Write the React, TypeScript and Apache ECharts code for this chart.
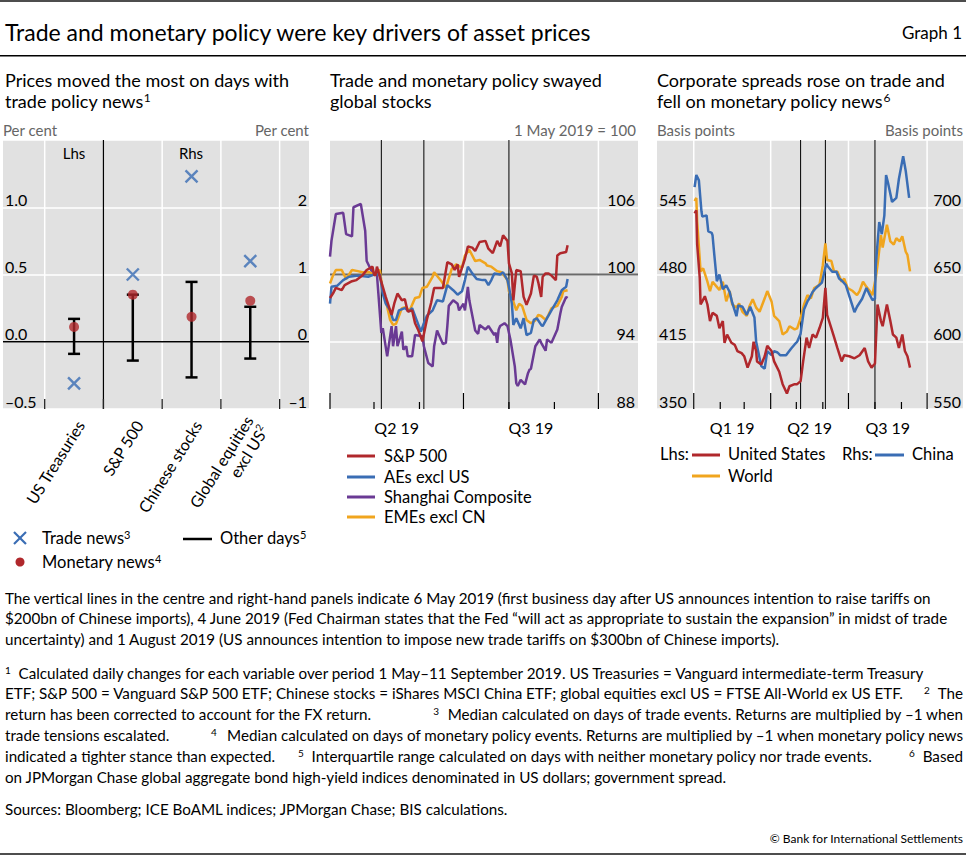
import React, { useEffect, useRef } from 'react';
import * as echarts from 'echarts';

const FONT = 'Lato, "Noto Sans", "DejaVu Sans", sans-serif';
const RED = '#b0282c';
const BLUE = '#3a6db4';
const PURPLE = '#6a3a94';
const ORANGE = '#f0a51e';
const GRIDBG = '#e1e1e1';

// ---------- Left panel ----------
const assetLabels = ['US Treasuries', 'S&P 500', 'Chinese stocks', 'Global equities\nexcl US'];
const assetLabelSup = ['', '', '', '2'];
const assetPositions = [1, 2, 3, 4];
const assetOnRhs = [false, true, true, true];
const tradeNews = [-0.31, 1.0, 2.46, 1.2];
const monetaryNews = [0.11, 0.7, 0.37, 0.61];
const otherDaysLow = [-0.09, -0.28, -0.53, -0.25];
const otherDaysHigh = [0.17, 0.7, 0.89, 0.52];
const leftDividers = [0.5, 1.5, 2.5, 3.5, 4.5];
const lhsRhsDivider = 1.5;

// ---------- Centre panel (1 May 2019 = 100) ----------
const spx: [string, number][] = [
  ['2019-04-01', 97.9], ['2019-04-03', 98.3], ['2019-04-05', 98.8], ['2019-04-09', 98.6], ['2019-04-11', 99.05],
  ['2019-04-16', 99.4], ['2019-04-19', 99.5], ['2019-04-23', 99.9], ['2019-04-26', 100.4], ['2019-04-30', 100.7],
  ['2019-05-01', 100], ['2019-05-02', 99.9], ['2019-05-03', 100.7], ['2019-05-07', 98.9], ['2019-05-09', 98.0],
  ['2019-05-13', 96.4], ['2019-05-15', 97.5], ['2019-05-17', 98.3], ['2019-05-20', 97.7], ['2019-05-22', 97.8],
  ['2019-05-24', 96.7], ['2019-05-27', 96.8], ['2019-05-29', 95.65], ['2019-05-31', 95.1], ['2019-06-03', 94.05],
  ['2019-06-06', 95.95], ['2019-06-09', 97.5], ['2019-06-11', 98.8], ['2019-06-17', 98.8], ['2019-06-20', 101.1],
  ['2019-06-23', 100.9], ['2019-06-25', 100.4], ['2019-06-27', 100.9], ['2019-06-28', 99.8], ['2019-07-02', 101.4],
  ['2019-07-04', 102.5], ['2019-07-07', 102.4], ['2019-07-09', 102.1], ['2019-07-12', 102.9], ['2019-07-16', 103.0],
  ['2019-07-18', 102.3], ['2019-07-21', 101.9], ['2019-07-24', 103.0], ['2019-07-26', 102.5], ['2019-07-28', 103.5],
  ['2019-07-31', 103.0], ['2019-08-01', 101.0], ['2019-08-03', 100.1], ['2019-08-04', 97.7], ['2019-08-06', 100.4],
  ['2019-08-09', 100.3], ['2019-08-11', 98.0], ['2019-08-13', 97.3], ['2019-08-16', 98.3], ['2019-08-18', 99.9],
  ['2019-08-20', 99.8], ['2019-08-21', 99.3], ['2019-08-23', 98.0], ['2019-08-24', 99.8], ['2019-08-26', 100.1],
  ['2019-08-28', 100.1], ['2019-08-30', 99.9], ['2019-09-02', 99.5], ['2019-09-03', 101.7], ['2019-09-05', 101.9],
  ['2019-09-09', 102.0], ['2019-09-10', 102.6],
];
const aesExUs: [string, number][] = [
  ['2019-04-01', 97.4], ['2019-04-02', 98.9], ['2019-04-06', 99.0], ['2019-04-10', 99.5], ['2019-04-14', 99.8],
  ['2019-04-20', 99.9], ['2019-04-27', 99.8], ['2019-05-01', 100], ['2019-05-05', 100.0], ['2019-05-07', 98.3],
  ['2019-05-09', 97.4], ['2019-05-12', 96.8], ['2019-05-14', 95.95], ['2019-05-16', 95.95], ['2019-05-18', 96.8],
  ['2019-05-22', 97.0], ['2019-05-25', 96.7], ['2019-05-27', 97.0], ['2019-05-30', 95.95], ['2019-06-02', 94.9],
  ['2019-06-04', 95.65], ['2019-06-06', 96.3], ['2019-06-10', 96.8], ['2019-06-13', 97.7], ['2019-06-17', 97.6],
  ['2019-06-20', 99.05], ['2019-06-24', 98.6], ['2019-06-27', 98.2], ['2019-06-30', 98.5], ['2019-07-02', 99.5],
  ['2019-07-04', 100.7], ['2019-07-07', 100.1], ['2019-07-10', 99.6], ['2019-07-14', 99.5], ['2019-07-16', 99.5],
  ['2019-07-18', 99.05], ['2019-07-20', 99.5], ['2019-07-22', 100.1], ['2019-07-26', 100.0], ['2019-07-28', 100.2],
  ['2019-07-31', 99.5], ['2019-08-01', 98.9], ['2019-08-03', 97.4], ['2019-08-04', 95.5], ['2019-08-06', 96.1],
  ['2019-08-09', 95.2], ['2019-08-11', 96.1], ['2019-08-13', 94.6], ['2019-08-16', 94.8], ['2019-08-18', 95.95],
  ['2019-08-20', 96.1], ['2019-08-23', 95.5], ['2019-08-24', 95.4], ['2019-08-27', 96.1], ['2019-08-30', 96.8],
  ['2019-09-03', 97.7], ['2019-09-06', 98.6], ['2019-09-07', 98.7], ['2019-09-09', 98.9], ['2019-09-10', 99.6],
];
const shanghai: [string, number][] = [
  ['2019-04-01', 101.6], ['2019-04-02', 103.0], ['2019-04-05', 105.4], ['2019-04-10', 105.5], ['2019-04-12', 103.6],
  ['2019-04-16', 103.4], ['2019-04-17', 106.0], ['2019-04-22', 106.3], ['2019-04-25', 103.9], ['2019-04-26', 101.2],
  ['2019-04-29', 100.4], ['2019-05-01', 100.0], ['2019-05-03', 100.0], ['2019-05-06', 94.8], ['2019-05-07', 95.2],
  ['2019-05-10', 92.7], ['2019-05-13', 95.4], ['2019-05-14', 93.6], ['2019-05-16', 95.4], ['2019-05-17', 93.6],
  ['2019-05-20', 94.9], ['2019-05-21', 93.3], ['2019-05-23', 93.6], ['2019-05-24', 92.7], ['2019-05-27', 92.7],
  ['2019-05-29', 94.6], ['2019-06-03', 94.5], ['2019-06-04', 93.6], ['2019-06-07', 92.1], ['2019-06-10', 91.8],
  ['2019-06-11', 93.6], ['2019-06-13', 95.0], ['2019-06-14', 94.7], ['2019-06-17', 93.8], ['2019-06-19', 93.9],
  ['2019-06-20', 95.4], ['2019-06-21', 97.2], ['2019-06-24', 97.7], ['2019-06-27', 97.4], ['2019-06-28', 96.8],
  ['2019-07-01', 97.4], ['2019-07-02', 96.8], ['2019-07-04', 98.9], ['2019-07-05', 97.7], ['2019-07-09', 95.0],
  ['2019-07-11', 94.7], ['2019-07-12', 95.5], ['2019-07-16', 95.1], ['2019-07-18', 95.4], ['2019-07-22', 94.6],
  ['2019-07-23', 94.8], ['2019-07-24', 93.9], ['2019-07-25', 95.1], ['2019-07-26', 95.4], ['2019-07-29', 95.65],
  ['2019-07-31', 95.4], ['2019-08-02', 94.2], ['2019-08-05', 91.8], ['2019-08-06', 90.3], ['2019-08-07', 90.05],
  ['2019-08-09', 90.6], ['2019-08-12', 90.2], ['2019-08-14', 91.2], ['2019-08-15', 91.5], ['2019-08-16', 91.6],
  ['2019-08-19', 93.6], ['2019-08-20', 93.8], ['2019-08-22', 94.2], ['2019-08-23', 93.9], ['2019-08-26', 93.2],
  ['2019-08-27', 94.2], ['2019-08-28', 94.1], ['2019-08-30', 93.9], ['2019-09-03', 95.1], ['2019-09-05', 96.5],
  ['2019-09-06', 97.1], ['2019-09-09', 98.0], ['2019-09-10', 97.9],
];
const emesExCn: [string, number][] = [
  ['2019-04-01', 99.2], ['2019-04-03', 99.9], ['2019-04-05', 100.4], ['2019-04-09', 100.4], ['2019-04-12', 99.6],
  ['2019-04-16', 100.4], ['2019-04-20', 100.3], ['2019-04-23', 100.2], ['2019-04-28', 100.2], ['2019-05-01', 100.0],
  ['2019-05-05', 100.4], ['2019-05-07', 98.5], ['2019-05-09', 97.7], ['2019-05-12', 95.95], ['2019-05-14', 95.5],
  ['2019-05-16', 95.6], ['2019-05-18', 96.3], ['2019-05-20', 97.0], ['2019-05-23', 97.1], ['2019-05-25', 96.7],
  ['2019-05-29', 97.9], ['2019-06-01', 98.0], ['2019-06-03', 98.8], ['2019-06-06', 98.9], ['2019-06-10', 99.8],
  ['2019-06-11', 100.2], ['2019-06-16', 99.4], ['2019-06-19', 98.8], ['2019-06-23', 100.5], ['2019-06-26', 100.9],
  ['2019-06-30', 100.6], ['2019-07-02', 101.7], ['2019-07-05', 102.2], ['2019-07-09', 101.2], ['2019-07-12', 101.3],
  ['2019-07-16', 101.0], ['2019-07-17', 100.8], ['2019-07-20', 100.7], ['2019-07-24', 100.3], ['2019-07-27', 100.2],
  ['2019-07-31', 99.5], ['2019-08-01', 98.5], ['2019-08-03', 98.0], ['2019-08-06', 96.8], ['2019-08-08', 97.4],
  ['2019-08-10', 97.2], ['2019-08-13', 95.95], ['2019-08-16', 95.65], ['2019-08-19', 95.9], ['2019-08-21', 96.4],
  ['2019-08-23', 96.3], ['2019-08-26', 95.95], ['2019-08-28', 96.4], ['2019-08-30', 97.0], ['2019-09-03', 97.2],
  ['2019-09-06', 98.0], ['2019-09-07', 98.5], ['2019-09-10', 98.6],
];

// ---------- Right panel (basis points) ----------
const usSpread: [string, number][] = [
  ['2019-01-02', 539], ['2019-01-04', 542], ['2019-01-05', 509], ['2019-01-08', 477], ['2019-01-09', 451],
  ['2019-01-11', 454], ['2019-01-14', 459], ['2019-01-17', 451], ['2019-01-20', 435], ['2019-01-23', 443],
  ['2019-01-28', 440], ['2019-01-31', 428], ['2019-02-04', 435], ['2019-02-06', 414], ['2019-02-09', 422],
  ['2019-02-14', 414], ['2019-02-18', 412], ['2019-02-21', 406], ['2019-02-26', 404], ['2019-03-01', 401],
  ['2019-03-05', 390], ['2019-03-10', 401], ['2019-03-12', 415], ['2019-03-15', 406], ['2019-03-16', 396],
  ['2019-03-21', 393], ['2019-03-25', 401], ['2019-03-28', 411], ['2019-04-02', 406], ['2019-04-05', 396],
  ['2019-04-11', 386], ['2019-04-15', 374], ['2019-04-20', 365], ['2019-04-23', 372], ['2019-04-29', 374],
  ['2019-05-02', 374], ['2019-05-06', 377], ['2019-05-09', 396], ['2019-05-13', 419], ['2019-05-16', 409],
  ['2019-05-20', 422], ['2019-05-24', 419], ['2019-05-28', 428], ['2019-06-01', 438], ['2019-06-04', 467],
  ['2019-06-06', 441], ['2019-06-11', 428], ['2019-06-14', 420], ['2019-06-18', 409], ['2019-06-23', 396],
  ['2019-06-26', 402], ['2019-07-02', 401], ['2019-07-08', 399], ['2019-07-14', 402], ['2019-07-20', 409],
  ['2019-07-24', 396], ['2019-07-28', 390], ['2019-08-01', 394], ['2019-08-04', 451], ['2019-08-08', 435],
  ['2019-08-10', 430], ['2019-08-15', 451], ['2019-08-19', 435], ['2019-08-22', 422], ['2019-08-26', 419],
  ['2019-08-29', 409], ['2019-09-02', 422], ['2019-09-05', 406], ['2019-09-08', 401], ['2019-09-11', 390],
];
const worldSpread: [string, number][] = [
  ['2019-01-02', 551], ['2019-01-04', 554], ['2019-01-05', 531], ['2019-01-09', 483], ['2019-01-12', 486],
  ['2019-01-17', 473], ['2019-01-20', 464], ['2019-01-23', 473], ['2019-01-28', 468], ['2019-01-31', 465],
  ['2019-02-04', 473], ['2019-02-08', 454], ['2019-02-12', 464], ['2019-02-15', 451], ['2019-02-20', 448],
  ['2019-02-23', 452], ['2019-02-27', 444], ['2019-03-04', 440], ['2019-03-07', 449], ['2019-03-11', 456],
  ['2019-03-15', 448], ['2019-03-19', 444], ['2019-03-25', 457], ['2019-03-28', 464], ['2019-04-02', 454],
  ['2019-04-05', 440], ['2019-04-11', 435], ['2019-04-15', 422], ['2019-04-20', 425], ['2019-04-23', 430],
  ['2019-04-29', 427], ['2019-05-02', 428], ['2019-05-06', 438], ['2019-05-10', 451], ['2019-05-14', 460],
  ['2019-05-18', 457], ['2019-05-22', 467], ['2019-05-28', 470], ['2019-06-01', 489], ['2019-06-04', 510],
  ['2019-06-06', 494], ['2019-06-11', 493], ['2019-06-14', 483], ['2019-06-18', 483], ['2019-06-23', 473],
  ['2019-06-26', 476], ['2019-06-30', 467], ['2019-07-06', 464], ['2019-07-11', 460], ['2019-07-14', 464],
  ['2019-07-18', 473], ['2019-07-22', 468], ['2019-07-26', 464], ['2019-07-29', 460], ['2019-08-02', 477],
  ['2019-08-04', 489], ['2019-08-08', 518], ['2019-08-10', 506], ['2019-08-15', 528], ['2019-08-19', 512],
  ['2019-08-23', 509], ['2019-08-26', 515], ['2019-08-30', 512], ['2019-09-02', 517], ['2019-09-06', 502],
  ['2019-09-08', 499], ['2019-09-11', 483],
];
const chinaSpread: [string, number][] = [
  ['2019-01-02', 715], ['2019-01-04', 724], ['2019-01-07', 720], ['2019-01-10', 697], ['2019-01-11', 693],
  ['2019-01-16', 694], ['2019-01-18', 682], ['2019-01-22', 681], ['2019-01-23', 679], ['2019-01-25', 665],
  ['2019-01-28', 645], ['2019-01-31', 650], ['2019-02-04', 639], ['2019-02-08', 642], ['2019-02-12', 637],
  ['2019-02-15', 629], ['2019-02-20', 619], ['2019-02-22', 627], ['2019-02-27', 626], ['2019-03-04', 620],
  ['2019-03-08', 626], ['2019-03-13', 618], ['2019-03-15', 600], ['2019-03-19', 588], ['2019-03-21', 582],
  ['2019-03-25', 580], ['2019-03-28', 593], ['2019-04-02', 590], ['2019-04-05', 593], ['2019-04-09', 592],
  ['2019-04-12', 590], ['2019-04-19', 590], ['2019-04-25', 595], ['2019-04-29', 598], ['2019-05-02', 600],
  ['2019-05-06', 606], ['2019-05-10', 624], ['2019-05-14', 630], ['2019-05-16', 632], ['2019-05-20', 637],
  ['2019-05-24', 640], ['2019-05-31', 644], ['2019-06-05', 658], ['2019-06-07', 656], ['2019-06-12', 652],
  ['2019-06-17', 652], ['2019-06-20', 647], ['2019-06-24', 645], ['2019-06-28', 642], ['2019-07-04', 630],
  ['2019-07-08', 622], ['2019-07-11', 626], ['2019-07-17', 632], ['2019-07-22', 640], ['2019-07-25', 636],
  ['2019-07-29', 631], ['2019-08-01', 632], ['2019-08-02', 657], ['2019-08-06', 689], ['2019-08-09', 680],
  ['2019-08-12', 694], ['2019-08-14', 724], ['2019-08-16', 719], ['2019-08-21', 704], ['2019-08-26', 707],
  ['2019-08-29', 721], ['2019-09-03', 738], ['2019-09-06', 727], ['2019-09-10', 707],
];

// ---------- Axis dates ----------
const eventDates = ['2019-05-06', '2019-06-04', '2019-08-01'];
const midQuarterStarts = ['2019-04-01', '2019-07-01', '2019-10-01'];
const midQuarterLabels = ['Q2 19', 'Q3 19'];
const midMonthStarts = ['2019-05-01', '2019-06-01', '2019-08-01', '2019-09-01'];
const rightQuarterStarts = ['2019-01-01', '2019-04-01', '2019-07-01', '2019-10-01'];
const rightQuarterLabels = ['Q1 19', 'Q2 19', 'Q3 19'];
const rightMonthStarts = ['2019-02-01', '2019-03-01', '2019-05-01', '2019-06-01', '2019-08-01', '2019-09-01'];

const ts = (s: string) => {
  const [y, m, d] = s.split('-').map(Number);
  return Date.UTC(y, m - 1, d);
};
const toSeries = (pts: [string, number][]) => pts.map(([d, v]) => [ts(d), v]);

const rich = (size: number, color = '#000', supSize = Math.round(size * 0.64)) => ({
  n: { fontSize: size, fontFamily: FONT, fill: color, lineHeight: Math.round(size * 1.1) },
  s: { fontSize: supSize, fontFamily: FONT, fill: color, verticalAlign: 'top', lineHeight: supSize + 1 },
});
const rt = (text: string, sup = '') => (text ? `{n|${text}}` : '') + (sup ? `{s|${sup}}` : '');
const T = (x: number, y: number, content: string, size: number, opts: any = {}) => ({
  type: 'text',
  x,
  y,
  silent: true,
  style: {
    text: content,
    rich: rich(size, opts.color || '#000'),
    align: opts.align || 'left',
    verticalAlign: 'middle',
    fontSize: size,
    fontFamily: FONT,
    fill: opts.color || '#000',
  },
});
const L = (x1: number, y1: number, x2: number, y2: number, stroke: string, lineWidth: number) => ({
  type: 'line',
  silent: true,
  shape: { x1, y1, x2, y2 },
  style: { stroke, lineWidth },
});

const minus = (s: string) => s.replace('-', '\u2013');

function timeGuides(quarterStarts: string[], quarterLabels: string[], monthStarts: string[], hLine: number | null) {
  return (params: any, api: any) => {
    const cs = params.coordSys;
    const top = cs.y;
    const bottom = cs.y + cs.height;
    const left = cs.x;
    const right = cs.x + cs.width;
    const X = (d: string) => api.coord([ts(d), 0])[0];
    const ch: any[] = [];
    quarterStarts.forEach((d) => {
      const x = X(d);
      if (x > left + 1 && x < right - 1) ch.push(L(x, top, x, bottom, '#ffffff', 1.5));
    });
    if (hLine !== null) {
      const y = api.coord([ts(quarterStarts[0]), hLine])[1];
      ch.push(L(left, y, right, y, '#6a6a6a', 2));
    }
    eventDates.forEach((d) => {
      const x = X(d);
      ch.push(L(x, top, x, bottom, '#000', 1));
    });
    quarterStarts.forEach((d) => {
      const x = X(d);
      ch.push(L(x, bottom - 16, x, bottom, '#000', 1.2));
    });
    monthStarts.forEach((d) => {
      const x = X(d);
      ch.push(L(x, bottom - 7, x, bottom, '#000', 1.2));
    });
    quarterLabels.forEach((lab, i) => {
      const x = (X(quarterStarts[i]) + X(quarterStarts[i + 1])) / 2;
      ch.push({
        type: 'text',
        x,
        y: bottom + 18,
        style: { text: lab, fill: '#000', fontSize: 16, fontFamily: FONT, align: 'center', verticalAlign: 'middle' },
      });
    });
    return { type: 'group', children: ch };
  };
}

function leftGuides(params: any, api: any) {
  const cs = params.coordSys;
  const top = cs.y;
  const bottom = cs.y + cs.height;
  const left = cs.x;
  const right = cs.x + cs.width;
  const ch: any[] = [];
  leftDividers.forEach((d) => {
    const x = api.coord([d, 0])[0];
    if (d !== lhsRhsDivider) ch.push(L(x, top, x, bottom, '#ffffff', 1.5));
  });
  const xd = api.coord([lhsRhsDivider, 0])[0];
  ch.push(L(xd, top, xd, bottom, '#000', 1.2));
  const y0 = api.coord([0, 0])[1];
  ch.push(L(left, y0, right, y0, '#000', 1.5));
  leftDividers.forEach((d) => {
    const x = api.coord([d, 0])[0];
    ch.push(L(x, bottom - 10, x, bottom, '#222', 1.3));
  });
  assetLabels.forEach((name, i) => {
    const x = api.coord([assetPositions[i], 0])[0];
    const parts = name.split('\n');
    const text = parts.map((p, j) => rt(p, j === parts.length - 1 ? assetLabelSup[i] : '')).join('\n');
    ch.push({
      type: 'text',
      x: x + 6,
      y: bottom + 13,
      rotation: (58 * Math.PI) / 180,
      style: {
        text,
        rich: rich(16),
        fontSize: 16,
        fontFamily: FONT,
        fill: '#000',
        align: 'right',
        verticalAlign: 'middle',
      },
    });
  });
  return { type: 'group', children: ch };
}

function errorBar(params: any, api: any) {
  const x = api.value(0);
  const p1 = api.coord([x, api.value(1)]);
  const p2 = api.coord([x, api.value(2)]);
  const cap = 6;
  return {
    type: 'group',
    children: [
      L(p1[0], p1[1], p2[0], p2[1], '#000', 2.5),
      L(p1[0] - cap, p1[1], p1[0] + cap, p1[1], '#000', 2.5),
      L(p2[0] - cap, p2[1], p2[0] + cap, p2[1], '#000', 2.5),
    ],
  };
}

function buildOption() {
  const idx = (rhs: boolean) => assetPositions.map((_, i) => i).filter((i) => assetOnRhs[i] === rhs);
  const pts = (arr: number[], rhs: boolean) => idx(rhs).map((i) => [assetPositions[i], arr[i]]);
  const bars = (rhs: boolean) => idx(rhs).map((i) => [assetPositions[i], otherDaysLow[i], otherDaysHigh[i]]);

  const axisLabelBase = { inside: true, color: '#000', fontSize: 16, fontFamily: FONT, verticalAlign: 'bottom', showMaxLabel: false };
  const white = { show: true, lineStyle: { color: '#ffffff', width: 1.5 } };
  const gridBase = { show: true, backgroundColor: GRIDBG, borderWidth: 0, top: 140, height: 269, containLabel: false, outerBoundsMode: 'none' };

  const lineSeries = (name: string, data: [string, number][], color: string, xi: number, yi: number) => ({
    name,
    type: 'line',
    xAxisIndex: xi,
    yAxisIndex: yi,
    data: toSeries(data),
    showSymbol: false,
    symbol: 'none',
    lineStyle: { color, width: 2.5 },
    itemStyle: { color },
    z: 3,
    silent: true,
  });

  const FN = 15.2;
  const LG = 16.5;
  const fn = (x: number, y: number, content: string, align = 'left') => T(x, y, content, FN, { align });

  const graphics: any[] = [
    { type: 'rect', silent: true, shape: { x: 0, y: 0, width: 966, height: 2 }, style: { fill: '#4d4d4d' } },
    T(5, 32, rt('Trade and monetary policy were key drivers of asset prices'), 23),
    T(962, 32, rt('Graph 1'), 17, { align: 'right' }),
    { type: 'rect', silent: true, shape: { x: 0, y: 55, width: 966, height: 1.5 }, style: { fill: '#000' } },
    // panel titles
    T(5, 80, rt('Prices moved the most on days with'), 18),
    T(5, 101, rt('trade policy news', '1'), 18),
    T(330, 80, rt('Trade and monetary policy swayed'), 18),
    T(330, 101, rt('global stocks'), 18),
    T(657, 80, rt('Corporate spreads rose on trade and'), 18),
    T(657, 101, rt('fell on monetary policy news', '6'), 18),
    // units
    T(3, 130, rt('Per cent'), 15, { color: '#666' }),
    T(309, 130, rt('Per cent'), 15, { color: '#666', align: 'right' }),
    T(636, 130, rt('1 May 2019 = 100'), 15, { color: '#666', align: 'right' }),
    T(657, 130, rt('Basis points'), 15, { color: '#666' }),
    T(963, 130, rt('Basis points'), 15, { color: '#666', align: 'right' }),
    T(74, 153, rt('Lhs'), 15, { align: 'center' }),
    T(191, 153, rt('Rhs'), 15, { align: 'center' }),
    // left legend
    L(14, 532, 26, 544, BLUE, 2.2),
    L(26, 532, 14, 544, BLUE, 2.2),
    T(42, 538, rt('Trade news', '3'), LG),
    { type: 'circle', silent: true, shape: { cx: 20, cy: 562, r: 4.5 }, style: { fill: RED } },
    T(42, 562, rt('Monetary news', '4'), LG),
    L(183, 539, 212, 539, '#000', 2.5),
    T(220, 538, rt('Other days', '5'), LG),
    // centre legend
    L(347, 456, 375, 456, RED, 3),
    T(384, 456, rt('S&P 500'), LG),
    L(347, 477, 375, 477, BLUE, 3),
    T(384, 477, rt('AEs excl US'), LG),
    L(347, 497, 375, 497, PURPLE, 3),
    T(384, 497, rt('Shanghai Composite'), LG),
    L(347, 517, 375, 517, ORANGE, 3),
    T(384, 517, rt('EMEs excl CN'), LG),
    // right legend
    T(660, 454, rt('Lhs:'), LG),
    L(692, 455, 720, 455, RED, 3),
    T(728, 454, rt('United States'), LG),
    T(842, 454, rt('Rhs:'), LG),
    L(875, 455, 904, 455, BLUE, 3),
    T(912, 454, rt('China'), LG),
    L(692, 476, 720, 476, ORANGE, 3),
    T(728, 476, rt('World'), LG),
    // notes
    fn(5, 598, rt('The vertical lines in the centre and right-hand panels indicate 6 May 2019 (first business day after US announces intention to raise tariffs on')),
    fn(5, 618, rt('$200bn of Chinese imports), 4 June 2019 (Fed Chairman states that the Fed \u201cwill act as appropriate to sustain the expansion\u201d in midst of trade')),
    fn(5, 639, rt('uncertainty) and 1 August 2019 (US announces intention to impose new trade tariffs on $300bn of Chinese imports).')),
    fn(5, 673, rt('', '1') + rt('  Calculated daily changes for each variable over period 1 May\u201311 September 2019. US Treasuries = Vanguard intermediate-term Treasury')),
    fn(5, 693, rt('ETF; S&P 500 = Vanguard S&P 500 ETF; Chinese stocks = iShares MSCI China ETF; global equities excl US = FTSE All-World ex US ETF.')),
    fn(963, 693, rt('', '2') + rt('  The'), 'right'),
    fn(5, 714, rt('return has been corrected to account for the FX return.')),
    fn(963, 714, rt('', '3') + rt('  Median calculated on days of trade events. Returns are multiplied by \u20131 when'), 'right'),
    fn(5, 735, rt('trade tensions escalated.')),
    fn(963, 735, rt('', '4') + rt('  Median calculated on days of monetary policy events. Returns are multiplied by \u20131 when monetary policy news'), 'right'),
    fn(5, 756, rt('indicated a tighter stance than expected.')),
    fn(298, 756, rt('', '5') + rt('  Interquartile range calculated on days with neither monetary policy nor trade events.')),
    fn(963, 756, rt('', '6') + rt('  Based'), 'right'),
    fn(5, 777, rt('on JPMorgan Chase global aggregate bond high-yield indices denominated in US dollars; government spread.')),
    fn(5, 809, rt('Sources: Bloomberg; ICE BoAML indices; JPMorgan Chase; BIS calculations.')),
    T(963, 838, rt('\u00a9 Bank for International Settlements'), 12, { align: 'right' }),
    { type: 'rect', silent: true, shape: { x: 0, y: 853, width: 966, height: 2 }, style: { fill: '#4d4d4d' } },
  ];

  return {
    animation: false,
    textStyle: { fontFamily: FONT },
    grid: [
      { ...gridBase, left: 3, width: 306 },
      { ...gridBase, left: 330, width: 308 },
      { ...gridBase, left: 657, width: 306 },
    ],
    xAxis: [
      { gridIndex: 0, type: 'value', min: -0.21, max: 5.0, show: false },
      { gridIndex: 1, type: 'time', min: ts('2019-04-01'), max: ts('2019-10-28'), show: false },
      { gridIndex: 2, type: 'time', min: ts('2018-11-19'), max: ts('2019-11-12'), show: false },
    ],
    yAxis: [
      {
        gridIndex: 0, type: 'value', position: 'left', min: -0.5, max: 1.5, interval: 0.5,
        axisLine: { show: false }, axisTick: { show: false }, splitLine: white,
        axisLabel: { ...axisLabelBase, margin: 2, formatter: (v: number) => minus(v.toFixed(1)) },
      },
      {
        gridIndex: 0, type: 'value', position: 'right', min: -1, max: 3, interval: 1,
        axisLine: { show: false }, axisTick: { show: false }, splitLine: { show: false },
        axisLabel: { ...axisLabelBase, margin: 2, formatter: (v: number) => minus(String(v)) },
      },
      {
        gridIndex: 1, type: 'value', position: 'right', min: 88, max: 112, interval: 6,
        axisLine: { show: false }, axisTick: { show: false }, splitLine: white,
        axisLabel: { ...axisLabelBase, margin: 3 },
      },
      {
        gridIndex: 2, type: 'value', position: 'left', min: 350, max: 610, interval: 65,
        axisLine: { show: false }, axisTick: { show: false }, splitLine: white,
        axisLabel: { ...axisLabelBase, margin: 2 },
      },
      {
        gridIndex: 2, type: 'value', position: 'right', min: 550, max: 750, interval: 50,
        axisLine: { show: false }, axisTick: { show: false }, splitLine: { show: false },
        axisLabel: { ...axisLabelBase, margin: 2 },
      },
    ],
    series: [
      // left panel
      { type: 'custom', name: 'guides-left', xAxisIndex: 0, yAxisIndex: 0, data: [[1, 0]], renderItem: leftGuides, silent: true, clip: false, z: 1 },
      { type: 'custom', name: 'Other days', xAxisIndex: 0, yAxisIndex: 0, data: bars(false), renderItem: errorBar, encode: { x: 0, y: [1, 2] }, silent: true, z: 4 },
      { type: 'custom', name: 'Other days', xAxisIndex: 0, yAxisIndex: 1, data: bars(true), renderItem: errorBar, encode: { x: 0, y: [1, 2] }, silent: true, z: 4 },
      ...[false, true].map((rhs) => ({
        type: 'scatter', name: 'Monetary news', xAxisIndex: 0, yAxisIndex: rhs ? 1 : 0, data: pts(monetaryNews, rhs),
        symbol: 'circle', symbolSize: 10, itemStyle: { color: RED }, z: 5, silent: true,
      })),
      ...[false, true].map((rhs) => ({
        type: 'scatter', name: 'Trade news', xAxisIndex: 0, yAxisIndex: rhs ? 1 : 0, data: pts(tradeNews, rhs),
        symbol: 'path://M0 0L10 10M10 0L0 10', symbolSize: 12,
        itemStyle: { color: 'rgba(0,0,0,0)', borderColor: BLUE, borderWidth: 2.4 }, z: 6, silent: true,
      })),
      // centre panel
      { type: 'custom', name: 'guides-mid', xAxisIndex: 1, yAxisIndex: 2, data: [[ts('2019-05-01'), 100]], renderItem: timeGuides(midQuarterStarts, midQuarterLabels, midMonthStarts, 100), silent: true, clip: false, z: 1 },
      lineSeries('Shanghai Composite', shanghai, PURPLE, 1, 2),
      lineSeries('EMEs excl CN', emesExCn, ORANGE, 1, 2),
      lineSeries('AEs excl US', aesExUs, BLUE, 1, 2),
      lineSeries('S&P 500', spx, RED, 1, 2),
      // right panel
      { type: 'custom', name: 'guides-right', xAxisIndex: 2, yAxisIndex: 3, data: [[ts('2019-05-01'), 400]], renderItem: timeGuides(rightQuarterStarts, rightQuarterLabels, rightMonthStarts, null), silent: true, clip: false, z: 1 },
      lineSeries('World', worldSpread, ORANGE, 2, 3),
      lineSeries('China', chinaSpread, BLUE, 2, 4),
      lineSeries('United States', usSpread, RED, 2, 3),
    ],
    graphic: { elements: graphics },
  };
}

export default function App() {
  const ref = useRef<HTMLDivElement>(null);
  useEffect(() => {
    if (!ref.current) return;
    const chart = echarts.init(ref.current, undefined, { renderer: 'svg' });
    chart.setOption(buildOption() as any);
    return () => chart.dispose();
  }, []);
  return (
    <div
      ref={ref}
      style={{ position: 'absolute', left: 0, top: 0, width: 966, height: 856, background: '#ffffff' }}
    />
  );
}
